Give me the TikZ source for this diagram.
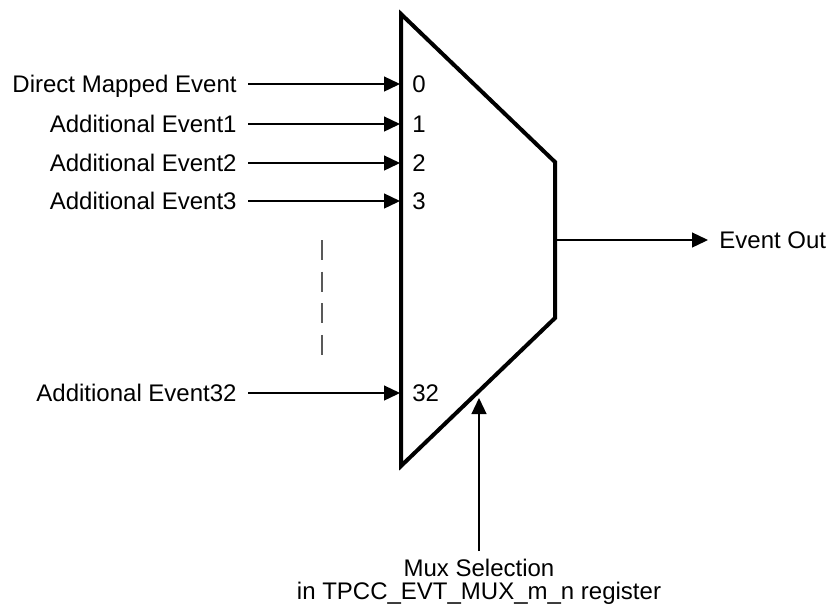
\documentclass[tikz,border=0pt]{standalone}
\usepackage{fontspec}
\setmainfont{Liberation Sans}
\usetikzlibrary{positioning, arrows.meta}

\begin{document}
\begin{tikzpicture}[
  x=0.5pt, y=-0.5pt,
  every node/.style={font=\fontsize{12}{11.5}\selectfont},
  lbl/.style={inner xsep=5.5pt, inner ysep=0pt, text height=8.6pt, text depth=0pt},
  sig/.style={line width=0.65pt, -{Triangle[length=8pt, width=7.5pt]}},
  muxbody/.style={line width=2pt, line join=miter},
  gapline/.style={line width=0.6pt, black!65, dash pattern=on 10pt off 5.8pt},
]
  \useasboundingbox (0,0) rectangle (830,607);

  % Mux outline
  \draw[muxbody] (401,14) coordinate (mtop) -- (555,162) coordinate (mtr)
    -- (555,318) coordinate (mbr) -- (401,466) coordinate (mbot) -- cycle;

  % Inputs with their select numbers
  \foreach \y/\txt/\num [count=\i] in {84/Direct Mapped Event/0,
      124/Additional Event1/1, 163/Additional Event2/2,
      201/Additional Event3/3, 393/Additional Event32/32} {
    \node[lbl, anchor=east] (in\i) at (248,\y) {\txt};
    \coordinate (pin\i) at (400,\y);
    \node[lbl, anchor=west] (num\i) at (401,\y) {\num};
    \draw[sig] (in\i.east) -- (pin\i);
  }

  % Skipped inputs
  \draw[gapline] (322,240) -- (322,355);

  % Output
  \coordinate (mout) at (555,240);
  \node[lbl, anchor=west] (evout) at (708,240) {Event Out};
  \draw[sig] (mout) -- (evout.west);

  % Select line
  \coordinate (msel) at (479,398);
  \node[anchor=north, align=center, inner sep=0pt, outer ysep=4pt] (selnote) at (479,551)
    {Mux Selection\\in TPCC\_EVT\_MUX\_m\_n register};
  \draw[sig] (selnote.north) -- (msel);
\end{tikzpicture}
\end{document}
